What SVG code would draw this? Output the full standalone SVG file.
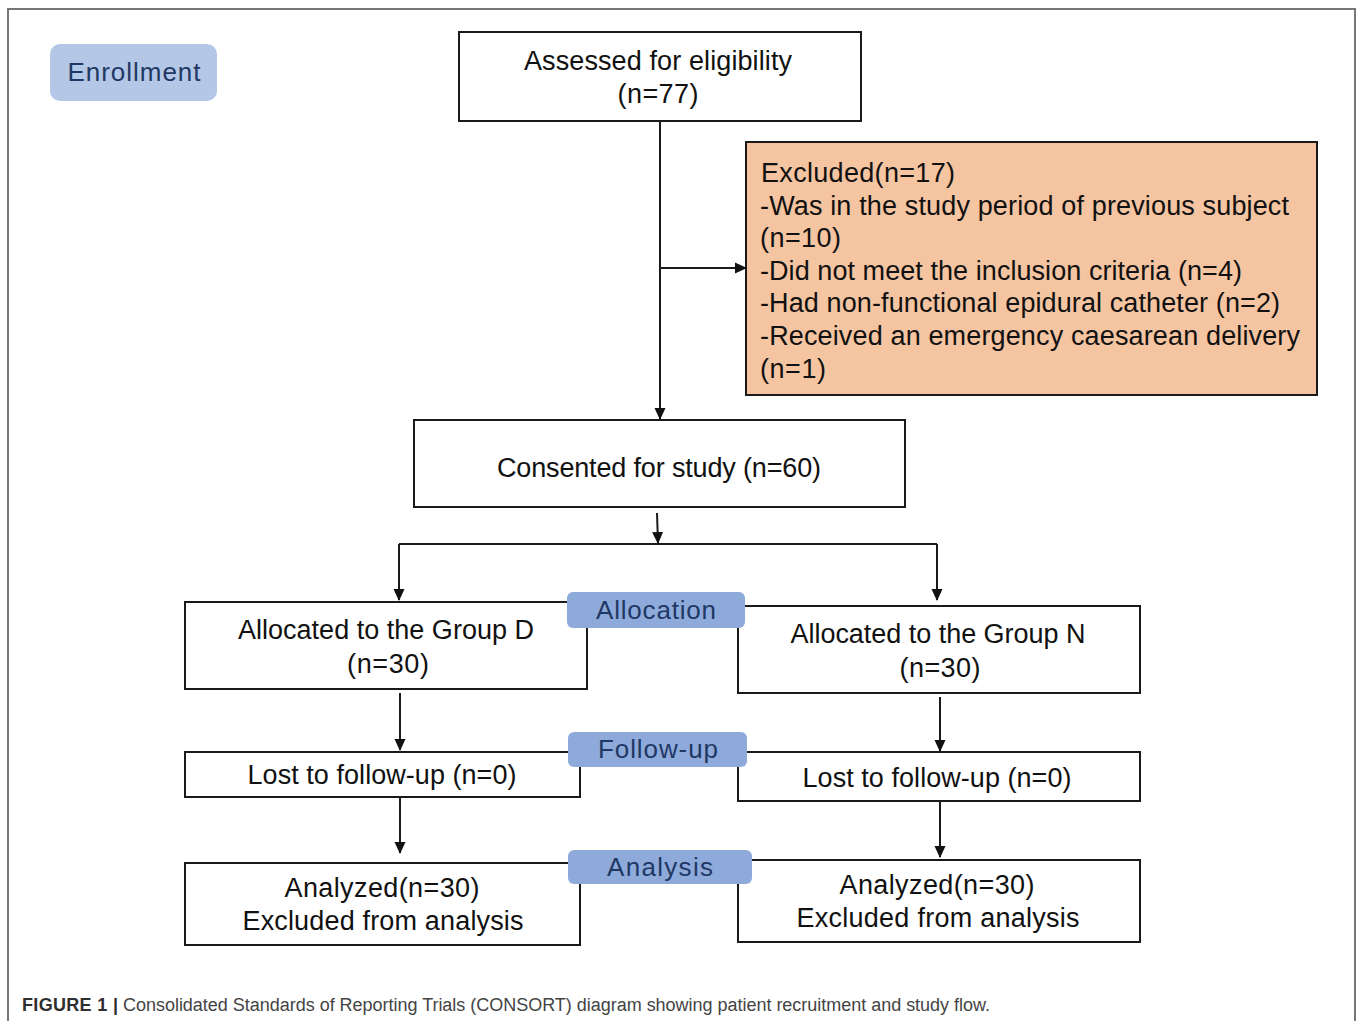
<svg xmlns="http://www.w3.org/2000/svg" width="1357" height="1021" viewBox="0 0 1357 1021">
<defs>
<marker id="ah" markerWidth="12" markerHeight="12" refX="11" refY="6" orient="auto" markerUnits="userSpaceOnUse">
<path d="M0,0.5 L12,6 L0,11.5 Z" fill="#111"/>
</marker>
<style>
.box{fill:#fff;stroke:#1a1a1a;stroke-width:2}
.exc{fill:#f5c4a1;stroke:#1a1a1a;stroke-width:2}
.t{font-family:"Liberation Sans",Arial,sans-serif;font-size:27px;fill:#111}
.c{text-anchor:middle}
.lab{fill:#8eaadb;stroke:none}
.lt{font-family:"Liberation Sans",Arial,sans-serif;font-size:26px;fill:#1f3864;text-anchor:middle}
.ln{fill:none;stroke:#1a1a1a;stroke-width:2}
.cap{font-family:"Liberation Sans",Arial,sans-serif;font-size:18px}
</style>
</defs>
<rect width="1357" height="1021" fill="#fff"/>
<path d="M8,1021 V9 H1355 V1021" fill="none" stroke="#777" stroke-width="2"/>

<g id="enrollment">
<rect x="50" y="44" width="167" height="57" rx="10" fill="#b4c7e7"/>
<text class="lt" x="134" y="81" textLength="133">Enrollment</text>
</g>

<g id="assessed">
<rect class="box" x="459" y="32" width="402" height="89"/>
<text class="t c" x="658" y="70" textLength="268">Assessed for eligibility</text>
<text class="t c" x="658" y="103" textLength="81">(n=77)</text>
</g>

<g id="excluded">
<rect class="exc" x="746" y="142" width="571" height="253"/>
<text class="t" x="761" y="182" textLength="194">Excluded(n=17)</text>
<text class="t" x="760" y="215" textLength="529">-Was in the study period of previous subject</text>
<text class="t" x="760" y="247" textLength="81">(n=10)</text>
<text class="t" x="760" y="280" textLength="482">-Did not meet the inclusion criteria (n=4)</text>
<text class="t" x="760" y="312" textLength="520">-Had non-functional epidural catheter (n=2)</text>
<text class="t" x="760" y="345" textLength="540">-Received an emergency caesarean delivery</text>
<text class="t" x="760" y="378" textLength="66">(n=1)</text>
</g>

<g id="consented">
<rect class="box" x="414" y="420" width="491" height="87"/>
<text class="t c" x="659" y="477" textLength="324">Consented for study (n=60)</text>
</g>

<g id="groupD">
<rect class="box" x="185" y="602" width="402" height="87"/>
<text class="t c" x="386" y="639" textLength="296">Allocated to the Group D</text>
<text class="t c" x="388" y="673" textLength="82">(n=30)</text>
</g>

<g id="groupN">
<rect class="box" x="738" y="606" width="402" height="87"/>
<text class="t c" x="938" y="643" textLength="295">Allocated to the Group N</text>
<text class="t c" x="940" y="677" textLength="81">(n=30)</text>
</g>

<g id="allocation">
<rect class="lab" x="567" y="592" width="178" height="36" rx="6"/>
<text class="lt" x="656" y="619" textLength="120">Allocation</text>
</g>

<g id="lostD">
<rect class="box" x="185" y="752" width="395" height="45"/>
<text class="t c" x="382" y="784" textLength="269">Lost to follow-up (n=0)</text>
</g>

<g id="lostN">
<rect class="box" x="738" y="752" width="402" height="49"/>
<text class="t c" x="937" y="787" textLength="269">Lost to follow-up (n=0)</text>
</g>

<g id="followup">
<rect class="lab" x="568" y="732" width="179" height="35" rx="6"/>
<text class="lt" x="658" y="758" textLength="120">Follow-up</text>
</g>

<g id="analyzedD">
<rect class="box" x="185" y="863" width="395" height="82"/>
<text class="t c" x="382" y="897" textLength="195">Analyzed(n=30)</text>
<text class="t c" x="383" y="930" textLength="281">Excluded from analysis</text>
</g>

<g id="analyzedN">
<rect class="box" x="738" y="860" width="402" height="82"/>
<text class="t c" x="937" y="894" textLength="195">Analyzed(n=30)</text>
<text class="t c" x="938" y="927" textLength="283">Excluded from analysis</text>
</g>

<g id="analysis">
<rect class="lab" x="568" y="850" width="184" height="34" rx="6"/>
<text class="lt" x="660" y="876" textLength="106">Analysis</text>
</g>

<g id="connectors">
<path class="ln" d="M660,121 V419" marker-end="url(#ah)"/>
<path class="ln" d="M660,268 H746" marker-end="url(#ah)"/>
<path class="ln" d="M657,513 L658,543" marker-end="url(#ah)"/>
<path class="ln" d="M399,544 H937"/>
<path class="ln" d="M399,544 V600" marker-end="url(#ah)"/>
<path class="ln" d="M937,544 V600" marker-end="url(#ah)"/>
<path class="ln" d="M400,693 V750" marker-end="url(#ah)"/>
<path class="ln" d="M940,697 V751" marker-end="url(#ah)"/>
<path class="ln" d="M400,798 V853" marker-end="url(#ah)"/>
<path class="ln" d="M940,802 V857" marker-end="url(#ah)"/>
</g>

<g id="caption">
<text class="cap" x="22" y="1011" font-weight="bold" fill="#2f2f2f" textLength="96">FIGURE 1 |</text>
<text class="cap" x="123" y="1011" fill="#444" textLength="867">Consolidated Standards of Reporting Trials (CONSORT) diagram showing patient recruitment and study flow.</text>
</g>
</svg>
